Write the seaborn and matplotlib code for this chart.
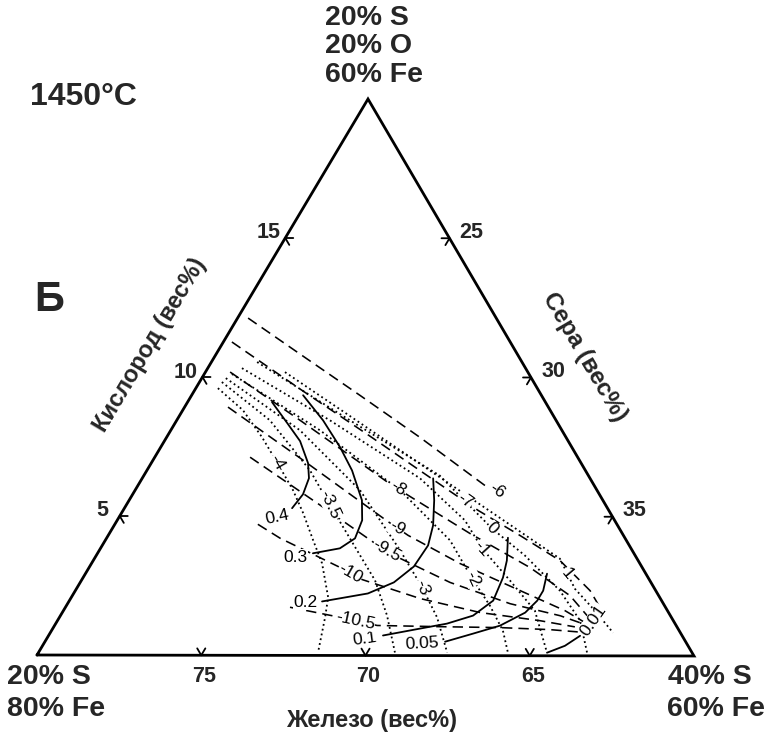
import numpy as np
import matplotlib
matplotlib.use("Agg")
import matplotlib.pyplot as plt
import seaborn as sns

# ---------------- data (wt% O, wt% S); Fe = 100 - O - S ----------------
# solid iso-lines
sol_04_o = [9.10, 8.35, 7.70, 6.91, 6.37, 5.79, 5.29]
sol_04_s = [22.57, 23.41, 24.13, 24.77, 25.07, 25.18, 25.10]
sol_03_o = [9.35, 8.45, 7.48, 6.65, 5.58, 4.86, 4.21, 3.85, 3.67]
sol_03_s = [23.39, 24.45, 25.46, 26.24, 27.08, 27.45, 27.56, 27.28, 26.55]
sol_02_o = [6.37, 5.58, 4.68, 3.96, 3.20, 2.63, 2.23, 1.94]
sol_02_s = [28.85, 29.28, 29.70, 29.91, 29.86, 29.54, 28.95, 27.70]
sol_01_o = [4.24, 3.42, 2.81, 1.98, 1.44, 1.15, 0.97, 0.72]
sol_01_s = [32.20, 32.58, 32.77, 32.89, 32.55, 31.90, 31.17, 30.17]
sol_005_o = [2.95, 2.34, 1.98, 1.55, 1.08, 0.79, 0.50]
sol_005_s = [34.04, 34.23, 34.23, 34.08, 33.55, 32.87, 32.17]
sol_001_o = [0.72, 0.36, 0.11]
sol_001_s = [36.17, 35.89, 35.47]

# dashed iso-lines
das_6_o = [12.12, 10.83, 9.35, 7.84, 6.04]
das_6_s = [20.32, 22.55, 25.12, 27.71, 30.68]
das_7_o = [11.26, 9.57, 7.88, 5.86, 5.22, 4.32, 3.42, 2.34, 1.55]
das_7_s = [20.26, 23.19, 26.17, 29.68, 30.80, 32.53, 34.20, 35.66, 36.45]
das_8_o = [10.18, 8.45, 6.22, 5.72, 4.39, 3.17, 2.16, 1.33]
das_8_s = [20.75, 23.75, 27.55, 28.47, 30.97, 33.41, 35.14, 36.16]
das_9_o = [8.92, 7.09, 4.86, 4.32, 3.31, 2.34, 1.62, 1.19]
das_9_s = [21.32, 24.44, 28.18, 29.12, 31.21, 33.53, 35.26, 36.09]
das_95_o = [7.12, 5.40, 4.03, 3.53, 2.63, 1.87, 1.44, 1.19]
das_95_s = [22.90, 25.90, 28.26, 29.21, 31.25, 33.46, 35.20, 35.93]
das_10_o = [4.71, 4.21, 3.20, 2.73, 2.05, 1.55, 1.26, 1.04]
das_10_s = [24.35, 25.28, 27.55, 28.52, 30.63, 32.71, 34.68, 35.85]
das_105_o = [1.73, 1.37, 1.08, 1.04, 1.01, 0.94, 0.86]
das_105_s = [26.83, 28.54, 29.81, 31.74, 33.59, 35.14, 36.03]

# dotted iso-lines
dot_m4_o = [9.60, 8.81, 7.84, 6.94, 5.94, 5.11, 4.14, 3.31, 2.09, 1.37, 0.11]
dot_m4_s = [20.67, 21.83, 22.90, 23.81, 24.80, 25.53, 26.32, 27.01, 27.81, 28.08, 28.50]
dot_m35_o = [9.82, 8.45, 6.65, 5.40, 4.50, 3.60, 2.70, 1.44, 0.11]
dot_m35_s = [20.68, 22.83, 24.96, 26.20, 27.11, 28.02, 28.93, 29.93, 30.84]
dot_m3_o = [9.96, 8.09, 5.94, 3.78, 2.45, 1.37, 0.11]
dot_m3_s = [20.73, 23.93, 26.84, 29.15, 30.49, 31.49, 32.43]
dot_m2_o = [10.11, 8.09, 5.94, 4.14, 2.77, 1.80, 0.90, 0.11]
dot_m2_s = [20.84, 24.54, 28.06, 30.49, 31.85, 32.88, 33.73, 34.28]
dot_m1_o = [10.32, 8.45, 6.37, 4.86, 3.85, 2.70, 1.62, 0.11]
dot_m1_s = [21.04, 24.66, 28.45, 30.58, 31.61, 33.04, 34.34, 35.47]
dot_0_o = [10.54, 8.45, 6.47, 4.57, 3.60, 2.34, 1.26, 0.11]
dot_0_s = [21.39, 25.27, 29.00, 31.55, 33.04, 34.74, 35.90, 36.69]
dot_p1_o = [10.18, 8.60, 6.65, 4.78, 3.49, 2.41, 1.62, 0.83]
dot_p1_s = [22.42, 25.20, 28.61, 31.90, 34.16, 35.16, 36.17, 37.12]

# curve labels: text, (O, S) anchor
solid_labels = ["0.4", "0.3", "0.2", "0.1", "0.05", "0.01"]
solid_lab_o = [4.96, 3.53, 1.91, 0.61, 0.43, 1.26]
solid_lab_s = [24.80, 26.08, 27.20, 29.68, 31.50, 36.29]
dashed_labels = ["-6", "-7", "-8", "-9", "-9.5", "-10", "-10.5"]
dashed_lab_o = [5.94, 5.58, 6.01, 4.57, 3.78, 2.95, 1.26]
dashed_lab_s = [31.01, 30.22, 27.96, 28.66, 28.75, 28.04, 29.05]
dotted_labels = ["-4", "-3.5", "-3", "-2", "-1", "0", "1"]
dotted_lab_o = [6.94, 5.40, 2.45, 2.77, 3.85, 4.57, 2.95]
dotted_lab_s = [23.81, 26.20, 30.49, 31.85, 31.61, 31.55, 34.65]

# axis ticks
fe_ticks = [75, 70, 65]
o_ticks = [5, 10, 15]
s_ticks = [25, 30, 35]

# ---------------- layout ----------------
LV = np.array([37.0, 655.0])
TV = np.array([368.0, 99.0])
RV = np.array([694.0, 656.0])


def proj(o, s):
    o = np.asarray(o, float)
    s = np.asarray(s, float)
    t = o / 20.0
    r = (s - 20.0) / 20.0
    x = LV[0] + r * (RV[0] - LV[0]) + t * (TV[0] - LV[0])
    y = LV[1] + r * (RV[1] - LV[1]) + t * (TV[1] - LV[1])
    return x, y


sns.set_theme(style="white")
plt.rcParams["font.family"] = ["Liberation Sans", "DejaVu Sans"]

fig = plt.figure(figsize=(7.69, 7.38), dpi=100)
ax = fig.add_axes([0, 0, 1, 1])

# triangle
tri_x = [LV[0], RV[0], TV[0], LV[0]]
tri_y = [LV[1], RV[1], TV[1], LV[1]]
ax.plot(tri_x, tri_y, color="black", lw=2.0, solid_joinstyle="miter", zorder=5)


def unit(v):
    return v / np.linalg.norm(v)


# ticks (small V marks pointing inside)
tick_len = 8.0
tick_sets = []
for fe in fe_ticks:
    tick_sets.append((proj(0.0, 100.0 - fe), (unit(TV - LV), unit(TV - RV))))
for o in o_ticks:
    tick_sets.append((proj(o, 20.0), (unit(RV - LV), unit(RV - TV))))
for s in s_ticks:
    tick_sets.append((proj(40.0 - s, s), (unit(LV - RV), unit(LV - TV))))
for (x, y), dirs in tick_sets:
    p = np.array([float(x), float(y)])
    for d in dirs:
        q = p + d * tick_len
        ax.plot([p[0], q[0]], [p[1], q[1]], color="black", lw=1.3, zorder=5)

# curves
solid_curves = [(sol_04_o, sol_04_s), (sol_03_o, sol_03_s), (sol_02_o, sol_02_s),
                (sol_01_o, sol_01_s), (sol_005_o, sol_005_s), (sol_001_o, sol_001_s)]
dashed_curves = [(das_6_o, das_6_s), (das_7_o, das_7_s), (das_8_o, das_8_s),
                 (das_9_o, das_9_s), (das_95_o, das_95_s), (das_10_o, das_10_s),
                 (das_105_o, das_105_s)]
dotted_curves = [(dot_m4_o, dot_m4_s), (dot_m35_o, dot_m35_s), (dot_m3_o, dot_m3_s),
                 (dot_m2_o, dot_m2_s), (dot_m1_o, dot_m1_s), (dot_0_o, dot_0_s),
                 (dot_p1_o, dot_p1_s)]

for o, s in solid_curves:
    x, y = proj(o, s)
    sns.lineplot(x=x, y=y, sort=False, estimator=None, color="black",
                 linewidth=1.3, ax=ax)
for o, s in dashed_curves:
    x, y = proj(o, s)
    sns.lineplot(x=x, y=y, sort=False, estimator=None, color="black",
                 linewidth=1.15, linestyle=(0, (6.5, 3.8)), ax=ax)
for o, s in dotted_curves:
    x, y = proj(o, s)
    sns.lineplot(x=x, y=y, sort=False, estimator=None, color="black",
                 linewidth=1.3, linestyle=(0, (1.0, 1.7)), ax=ax)

# curve labels
lab_kw = dict(fontsize=12.5, ha="center", va="center", color="black", zorder=6,
              bbox=dict(facecolor="white", edgecolor="none", pad=0.3))
solid_rot = [12, 0, 0, 8, 3, 55]
dashed_rot = [-35, -35, -33, -30, -30, -30, -12]
dotted_rot = [-60, -65, -70, -65, -48, -45, -50]
for txt, o, s, rot in zip(solid_labels, solid_lab_o, solid_lab_s, solid_rot):
    x, y = proj(o, s)
    ax.text(float(x), float(y), txt, rotation=rot, **lab_kw)
for txt, o, s, rot in zip(dashed_labels, dashed_lab_o, dashed_lab_s, dashed_rot):
    x, y = proj(o, s)
    ax.text(float(x), float(y), txt, rotation=rot, **lab_kw)
for txt, o, s, rot in zip(dotted_labels, dotted_lab_o, dotted_lab_s, dotted_rot):
    x, y = proj(o, s)
    ax.text(float(x), float(y), txt, rotation=rot, **lab_kw)

# tick labels
tk = dict(fontsize=15.5, fontweight="bold", ha="center", va="center")
for fe in fe_ticks:
    x, y = proj(0.0, 100.0 - fe)
    ax.text(float(x) + 3, 676, str(fe), **tk)
for o in o_ticks:
    x, y = proj(o, 20.0)
    ax.text(float(x) - 17, float(y) - 5, str(o), **tk)
for s in s_ticks:
    x, y = proj(40.0 - s, s)
    ax.text(float(x) + 22, float(y) - 6, str(s), **tk)

# axis titles
ax.text(150, 345, "Кислород (вес%)", rotation=59.2, fontsize=17, fontweight="bold",
        ha="center", va="center", rotation_mode="anchor")
ax.text(585, 357, "Сера (вес%)", rotation=-59.7, fontsize=17.5, fontweight="bold",
        ha="center", va="center", rotation_mode="anchor")
ax.text(372, 720, "Железо (вес%)", fontsize=17, fontweight="bold",
        ha="center", va="center")

# corner labels
ck = dict(fontsize=20.5, fontweight="bold", va="center")
ax.text(325, 18, "20% S", ha="left", **ck)
ax.text(325, 46, "20% O", ha="left", **ck)
ax.text(325, 75, "60% Fe", ha="left", **ck)
ax.text(7, 677, "20% S", ha="left", **ck)
ax.text(7, 709, "80% Fe", ha="left", **ck)
ax.text(668, 677, "40% S", ha="left", **ck)
ax.text(765, 709, "60% Fe", ha="right", **ck)

ax.text(30, 97, "1450°C", fontsize=23, fontweight="bold", ha="left", va="center")
ax.text(49, 300, "Б", fontsize=30, fontweight="bold", ha="center", va="center")

ax.set_xlim(0, 769)
ax.set_ylim(738, 0)
ax.set_axis_off()

fig.savefig("out.png", dpi=100, facecolor="white")
